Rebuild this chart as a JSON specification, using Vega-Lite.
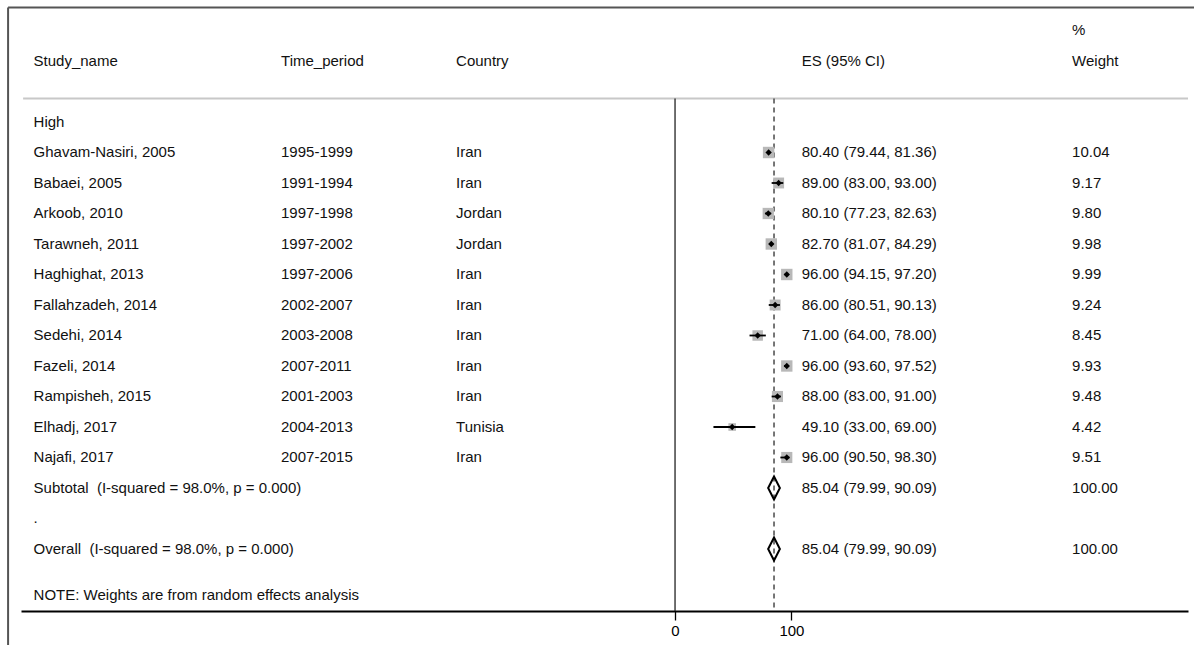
{
  "$schema": "https://vega.github.io/schema/vega-lite/v6.json",
  "width": 1167,
  "height": 611,
  "autosize": {"type": "none"},
  "padding": {"left": 21, "top": 0, "right": 6, "bottom": 34},
  "background": "white",
  "config": {
    "view": {"stroke": null},
    "font": "Liberation Sans",
    "axisX": {
      "grid": false,
      "domainColor": "#000",
      "domainWidth": 2,
      "tickColor": "#000",
      "tickWidth": 1.3,
      "tickSize": 9,
      "labelFontSize": 15,
      "labelFont": "Liberation Sans",
      "labelColor": "#000",
      "labelPadding": 3
    }
  },
  "data": {
    "values": [
      {"row": -1, "wt": "%"},
      {"row": 0, "label": "Study_name", "period": "Time_period", "country": "Country", "es_txt": "ES (95% CI)", "wt": "Weight"},
      {"row": 2, "label": "High"},
      {"row": 3, "type": "study", "label": "Ghavam-Nasiri, 2005", "period": "1995-1999", "country": "Iran", "es": 80.40, "lo": 79.44, "hi": 81.36, "es_txt": "80.40 (79.44, 81.36)", "weight": 10.04, "wt": "10.04"},
      {"row": 4, "type": "study", "label": "Babaei, 2005", "period": "1991-1994", "country": "Iran", "es": 89.00, "lo": 83.00, "hi": 93.00, "es_txt": "89.00 (83.00, 93.00)", "weight": 9.17, "wt": "9.17"},
      {"row": 5, "type": "study", "label": "Arkoob, 2010", "period": "1997-1998", "country": "Jordan", "es": 80.10, "lo": 77.23, "hi": 82.63, "es_txt": "80.10 (77.23, 82.63)", "weight": 9.80, "wt": "9.80"},
      {"row": 6, "type": "study", "label": "Tarawneh, 2011", "period": "1997-2002", "country": "Jordan", "es": 82.70, "lo": 81.07, "hi": 84.29, "es_txt": "82.70 (81.07, 84.29)", "weight": 9.98, "wt": "9.98"},
      {"row": 7, "type": "study", "label": "Haghighat, 2013", "period": "1997-2006", "country": "Iran", "es": 96.00, "lo": 94.15, "hi": 97.20, "es_txt": "96.00 (94.15, 97.20)", "weight": 9.99, "wt": "9.99"},
      {"row": 8, "type": "study", "label": "Fallahzadeh, 2014", "period": "2002-2007", "country": "Iran", "es": 86.00, "lo": 80.51, "hi": 90.13, "es_txt": "86.00 (80.51, 90.13)", "weight": 9.24, "wt": "9.24"},
      {"row": 9, "type": "study", "label": "Sedehi, 2014", "period": "2003-2008", "country": "Iran", "es": 71.00, "lo": 64.00, "hi": 78.00, "es_txt": "71.00 (64.00, 78.00)", "weight": 8.45, "wt": "8.45"},
      {"row": 10, "type": "study", "label": "Fazeli, 2014", "period": "2007-2011", "country": "Iran", "es": 96.00, "lo": 93.60, "hi": 97.52, "es_txt": "96.00 (93.60, 97.52)", "weight": 9.93, "wt": "9.93"},
      {"row": 11, "type": "study", "label": "Rampisheh, 2015", "period": "2001-2003", "country": "Iran", "es": 88.00, "lo": 83.00, "hi": 91.00, "es_txt": "88.00 (83.00, 91.00)", "weight": 9.48, "wt": "9.48"},
      {"row": 12, "type": "study", "label": "Elhadj, 2017", "period": "2004-2013", "country": "Tunisia", "es": 49.10, "lo": 33.00, "hi": 69.00, "es_txt": "49.10 (33.00, 69.00)", "weight": 4.42, "wt": "4.42"},
      {"row": 13, "type": "study", "label": "Najafi, 2017", "period": "2007-2015", "country": "Iran", "es": 96.00, "lo": 90.50, "hi": 98.30, "es_txt": "96.00 (90.50, 98.30)", "weight": 9.51, "wt": "9.51"},
      {"row": 14, "type": "pooled", "label": "Subtotal \u00a0(I-squared = 98.0%, p = 0.000)", "es": 85.04, "lo": 79.99, "hi": 90.09, "es_txt": "85.04 (79.99, 90.09)", "weight": 100, "wt": "100.00"},
      {"row": 15, "label": "."},
      {"row": 16, "type": "pooled", "label": "Overall \u00a0(I-squared = 98.0%, p = 0.000)", "es": 85.04, "lo": 79.99, "hi": 90.09, "es_txt": "85.04 (79.99, 90.09)", "weight": 100, "wt": "100.00"},
      {"row": 17.5, "label": "NOTE: Weights are from random effects analysis"}
    ]
  },
  "layer": [
    {
      "data": {"values": [{}]},
      "mark": {"type": "rule", "color": "#555", "strokeWidth": 2},
      "encoding": {
        "x": {"datum": -573, "type": "quantitative", "scale": {"domain": [-561.9, 440.7], "nice": false, "zero": false}, "axis": {"values": [0, 100], "title": null}},
        "x2": {"datum": 445.9},
        "y": {"datum": -1.754, "type": "quantitative", "scale": {"domain": [-2, 18.033], "reverse": true, "nice": false, "zero": false}, "axis": null}
      }
    },
    {
      "data": {"values": [{}]},
      "mark": {"type": "rule", "color": "#555", "strokeWidth": 2},
      "encoding": {
        "x": {"datum": -573, "type": "quantitative", "scale": {"domain": [-561.9, 440.7], "nice": false, "zero": false}, "axis": {"values": [0, 100], "title": null}},
        "y": {"datum": -1.754, "type": "quantitative", "scale": {"domain": [-2, 18.033], "reverse": true, "nice": false, "zero": false}, "axis": null},
        "y2": {"datum": 19.2}
      }
    },
    {
      "data": {"values": [{}]},
      "mark": {"type": "rule", "color": "#c8c8c8", "strokeWidth": 2},
      "encoding": {
        "x": {"datum": -560.1, "type": "quantitative", "scale": {"domain": [-561.9, 440.7], "nice": false, "zero": false}, "axis": {"values": [0, 100], "title": null}},
        "x2": {"datum": 440.7},
        "y": {"datum": 1.23, "type": "quantitative", "scale": {"domain": [-2, 18.033], "reverse": true, "nice": false, "zero": false}, "axis": null}
      }
    },
    {
      "data": {"values": [{}]},
      "mark": {"type": "rule", "color": "#222", "strokeWidth": 1.3},
      "encoding": {
        "x": {"datum": 0, "type": "quantitative", "scale": {"domain": [-561.9, 440.7], "nice": false, "zero": false}, "axis": {"values": [0, 100], "title": null}},
        "y": {"datum": 1.23, "type": "quantitative", "scale": {"domain": [-2, 18.033], "reverse": true, "nice": false, "zero": false}, "axis": null},
        "y2": {"datum": 18.033}
      }
    },
    {
      "data": {"values": [{}]},
      "mark": {"type": "rule", "color": "#555", "strokeWidth": 1.6, "strokeDash": [5, 4]},
      "encoding": {
        "x": {"datum": 85.04, "type": "quantitative", "scale": {"domain": [-561.9, 440.7], "nice": false, "zero": false}, "axis": {"values": [0, 100], "title": null}},
        "y": {"datum": 1.23, "type": "quantitative", "scale": {"domain": [-2, 18.033], "reverse": true, "nice": false, "zero": false}, "axis": null},
        "y2": {"datum": 18.033}
      }
    },
    {
      "transform": [{"filter": "datum.type == 'study'"}],
      "mark": {"type": "point", "shape": "square", "filled": true, "color": "#b8b8b8", "opacity": 1},
      "encoding": {
        "x": {"field": "es", "type": "quantitative", "scale": {"domain": [-561.9, 440.7], "nice": false, "zero": false}, "axis": {"values": [0, 100], "title": null}},
        "y": {"field": "row", "type": "quantitative", "scale": {"domain": [-2, 18.033], "reverse": true, "nice": false, "zero": false}, "axis": null},
        "size": {"field": "weight", "type": "quantitative", "scale": {"domain": [0, 10], "range": [0, 130], "zero": true}, "legend": null}
      }
    },
    {
      "transform": [{"filter": "datum.type == 'study'"}],
      "mark": {"type": "rule", "color": "#000", "strokeWidth": 1.8},
      "encoding": {
        "x": {"field": "lo", "type": "quantitative", "scale": {"domain": [-561.9, 440.7], "nice": false, "zero": false}, "axis": {"values": [0, 100], "title": null}},
        "x2": {"field": "hi"},
        "y": {"field": "row", "type": "quantitative", "scale": {"domain": [-2, 18.033], "reverse": true, "nice": false, "zero": false}, "axis": null}
      }
    },
    {
      "transform": [{"filter": "datum.type == 'study'"}],
      "mark": {"type": "point", "shape": "diamond", "filled": true, "color": "#000", "opacity": 1, "size": 40},
      "encoding": {
        "x": {"field": "es", "type": "quantitative", "scale": {"domain": [-561.9, 440.7], "nice": false, "zero": false}, "axis": {"values": [0, 100], "title": null}},
        "y": {"field": "row", "type": "quantitative", "scale": {"domain": [-2, 18.033], "reverse": true, "nice": false, "zero": false}, "axis": null}
      }
    },
    {
      "transform": [{"filter": "datum.type == 'pooled'"}],
      "mark": {"type": "point", "shape": "M-0.51,0L0,-1L0.51,0L0,1Z", "filled": false, "stroke": "#000", "strokeWidth": 2, "opacity": 1, "size": 529},
      "encoding": {
        "x": {"field": "es", "type": "quantitative", "scale": {"domain": [-561.9, 440.7], "nice": false, "zero": false}, "axis": {"values": [0, 100], "title": null}},
        "y": {"field": "row", "type": "quantitative", "scale": {"domain": [-2, 18.033], "reverse": true, "nice": false, "zero": false}, "axis": null}
      }
    },
    {
      "transform": [{"filter": "isValid(datum.label)"}],
      "mark": {"type": "text", "align": "left", "baseline": "middle", "fontSize": 15, "font": "Liberation Sans", "color": "#111"},
      "encoding": {
        "x": {"datum": -551.1, "type": "quantitative", "scale": {"domain": [-561.9, 440.7], "nice": false, "zero": false}, "axis": {"values": [0, 100], "title": null}},
        "y": {"field": "row", "type": "quantitative", "scale": {"domain": [-2, 18.033], "reverse": true, "nice": false, "zero": false}, "axis": null},
        "text": {"field": "label", "type": "nominal"}
      }
    },
    {
      "transform": [{"filter": "isValid(datum.period)"}],
      "mark": {"type": "text", "align": "left", "baseline": "middle", "fontSize": 15, "font": "Liberation Sans", "color": "#111"},
      "encoding": {
        "x": {"datum": -338.5, "type": "quantitative", "scale": {"domain": [-561.9, 440.7], "nice": false, "zero": false}, "axis": {"values": [0, 100], "title": null}},
        "y": {"field": "row", "type": "quantitative", "scale": {"domain": [-2, 18.033], "reverse": true, "nice": false, "zero": false}, "axis": null},
        "text": {"field": "period", "type": "nominal"}
      }
    },
    {
      "transform": [{"filter": "isValid(datum.country)"}],
      "mark": {"type": "text", "align": "left", "baseline": "middle", "fontSize": 15, "font": "Liberation Sans", "color": "#111"},
      "encoding": {
        "x": {"datum": -188.1, "type": "quantitative", "scale": {"domain": [-561.9, 440.7], "nice": false, "zero": false}, "axis": {"values": [0, 100], "title": null}},
        "y": {"field": "row", "type": "quantitative", "scale": {"domain": [-2, 18.033], "reverse": true, "nice": false, "zero": false}, "axis": null},
        "text": {"field": "country", "type": "nominal"}
      }
    },
    {
      "transform": [{"filter": "isValid(datum.es_txt)"}],
      "mark": {"type": "text", "align": "left", "baseline": "middle", "fontSize": 15, "font": "Liberation Sans", "color": "#111"},
      "encoding": {
        "x": {"datum": 108.8, "type": "quantitative", "scale": {"domain": [-561.9, 440.7], "nice": false, "zero": false}, "axis": {"values": [0, 100], "title": null}},
        "y": {"field": "row", "type": "quantitative", "scale": {"domain": [-2, 18.033], "reverse": true, "nice": false, "zero": false}, "axis": null},
        "text": {"field": "es_txt", "type": "nominal"}
      }
    },
    {
      "transform": [{"filter": "isValid(datum.wt)"}],
      "mark": {"type": "text", "align": "left", "baseline": "middle", "fontSize": 15, "font": "Liberation Sans", "color": "#111"},
      "encoding": {
        "x": {"datum": 341.1, "type": "quantitative", "scale": {"domain": [-561.9, 440.7], "nice": false, "zero": false}, "axis": {"values": [0, 100], "title": null}},
        "y": {"field": "row", "type": "quantitative", "scale": {"domain": [-2, 18.033], "reverse": true, "nice": false, "zero": false}, "axis": null},
        "text": {"field": "wt", "type": "nominal"}
      }
    }
  ]
}
